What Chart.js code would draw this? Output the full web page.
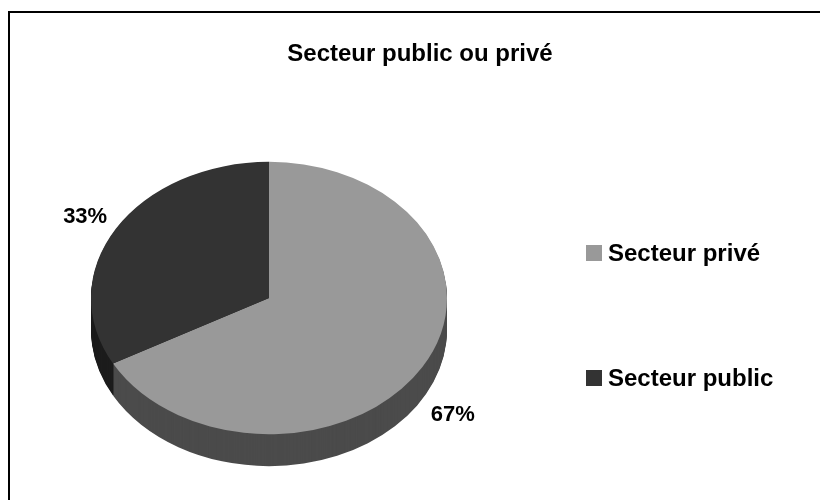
<!DOCTYPE html>
<html>
<head>
<meta charset="utf-8">
<title>Secteur public ou privé</title>
<script src="https://cdn.jsdelivr.net/npm/chart.js@4/dist/chart.umd.min.js"></script>
<style>
  html, body { margin: 0; padding: 0; background: #fff; }
  #wrap { position: relative; width: 820px; height: 500px; overflow: hidden; }
  #frame { position: absolute; left: 8px; top: 11px; width: 900px; height: 700px;
           border-left: 2px solid #000; border-top: 2px solid #000; }
  #pie { position: absolute; left: 0; top: 0; }
</style>
</head>
<body>
<div id="wrap">
  <div id="frame"></div>
  <canvas id="pie" width="820" height="500"></canvas>
</div>
<script>
var chartTitle = 'Secteur public ou privé';
var labels = ['Secteur privé', 'Secteur public'];
var values = [67, 33];
var topColors = ['#999999', '#333333'];
var sideColors = ['#4b4b4b', '#1c1c1c'];

var FONT = '"Liberation Sans", Arial, sans-serif';
var depth = 32;      // epaisseur du camembert
var tilt = 0.765;    // aplatissement de l'ellipse

function pct(i){
    var total = 0;
    for (var k = 0; k < values.length; k++) total += values[k];
    return Math.round(values[i] / total * 100) + '%';
}

// faux 3D : on empile la tranche en dessous puis on aplatit le dessus
var pie3d = {
    id: 'pie3d',
    beforeDatasetsDraw: function(chart){
        var ctx = chart.ctx;
        var arcs = chart.getDatasetMeta(0).data;
        var cx = arcs[0].x, cy = arcs[0].y;

        for (var d = depth; d > 0; d--) {
            ctx.save();
            ctx.translate(cx, cy + d);
            ctx.scale(1, tilt);
            arcs.forEach(function(arc, i){
                ctx.beginPath();
                ctx.moveTo(0, 0);
                ctx.arc(0, 0, arc.outerRadius, arc.startAngle, arc.endAngle);
                ctx.closePath();
                ctx.fillStyle = sideColors[i];
                ctx.fill();
            });
            ctx.restore();
        }

        ctx.save();
        ctx.translate(cx, cy);
        ctx.scale(1, tilt);
        ctx.translate(-cx, -cy);
    },
    afterDatasetsDraw: function(chart){
        var ctx = chart.ctx;
        ctx.restore();

        var arcs = chart.getDatasetMeta(0).data;
        ctx.save();
        ctx.fillStyle = '#000';
        ctx.font = 'bold 22px ' + FONT;
        ctx.textAlign = 'center';
        ctx.textBaseline = 'alphabetic';
        arcs.forEach(function(arc, i){
            var mid = (arc.startAngle + arc.endAngle) / 2;
            var r = arc.outerRadius * 1.2;
            var x = arc.x + Math.cos(mid) * r;
            var y = arc.y + Math.sin(mid) * r * tilt;
            if (Math.sin(mid) > 0) y += depth;
            ctx.fillText(pct(i), x, y + 8);
        });
        ctx.restore();
    },
    afterDraw: function(chart){
        var ctx = chart.ctx;
        ctx.save();
        ctx.fillStyle = '#000';
        ctx.font = 'bold 24px ' + FONT;
        ctx.textAlign = 'center';
        ctx.textBaseline = 'alphabetic';
        ctx.fillText(chartTitle, 420, 61);

        // legende
        ctx.textAlign = 'left';
        for (var i = 0; i < labels.length; i++) {
            var base = 261 + i * 125;
            ctx.fillStyle = topColors[i];
            ctx.fillRect(586, base - 16, 16, 16);
            ctx.fillStyle = '#000';
            ctx.fillText(labels[i], 608, base);
        }
        ctx.restore();
    }
};

var ctx = document.getElementById('pie').getContext('2d');
var chart = new Chart(ctx, {
    type: 'pie',
    data: {
        labels: labels,
        datasets: [{
            data: values,
            backgroundColor: topColors,
            borderWidth: 0
        }]
    },
    options: {
        responsive: false,
        animation: false,
        layout: {
            padding: { left: 91, top: 120, right: 373, bottom: 24 }
        },
        plugins: {
            legend: { display: false },
            title: { display: false },
            tooltip: { enabled: false }
        }
    },
    plugins: [pie3d]
});
</script>
</body>
</html>
